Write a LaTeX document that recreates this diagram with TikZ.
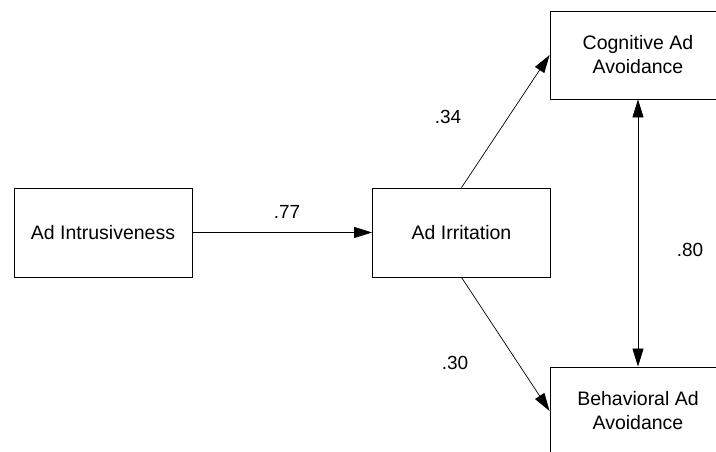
\documentclass[tikz,border=0pt]{standalone}
\usepackage{fontspec}
\setmainfont{Liberation Sans}
\usetikzlibrary{arrows.meta}
\begin{document}
\begin{tikzpicture}[x=1pt,y=-1pt,
  box/.style={draw, line width=0.8pt, rectangle, minimum width=178pt, minimum height=89pt,
    inner sep=0pt, align=center, font=\fontsize{19.5}{24}\selectfont},
  path/.style={line width=0.7pt, -{Triangle[length=18pt,width=11pt]}},
  both/.style={line width=0.7pt, {Triangle[length=18pt,width=11pt]}-{Triangle[length=18pt,width=11pt]}},
  coef/.style={font=\fontsize{19}{22}\selectfont}]
  \useasboundingbox (0,0) rectangle (716,452);
  \clip (0,0) rectangle (716,452);
  % constructs
  \node[box] (intr) at (103,232.5) {Ad Intrusiveness};
  \node[box] (irr)  at (461.5,232.5) {Ad Irritation};
  \node[box, minimum width=176pt, minimum height=88pt] (cog) at (638,55) {Cognitive Ad\\Avoidance};
  \node[box, minimum width=176pt, minimum height=88pt] (beh) at (638,411) {Behavioral Ad\\Avoidance};
  % paths
  \draw[path] (intr) -- (irr);
  \draw[path] (irr.north) -- (cog.west);
  \draw[path] (irr.south) -- (beh.west);
  \draw[both] (cog.south) -- (beh.north);
  % coefficients
  \node[coef] (c77) at (287,212) {.77};
  \node[coef] (c34) at (448,117) {.34};
  \node[coef] (c30) at (455,363) {.30};
  \node[coef] (c80) at (690,250) {.80};
\end{tikzpicture}
\end{document}
